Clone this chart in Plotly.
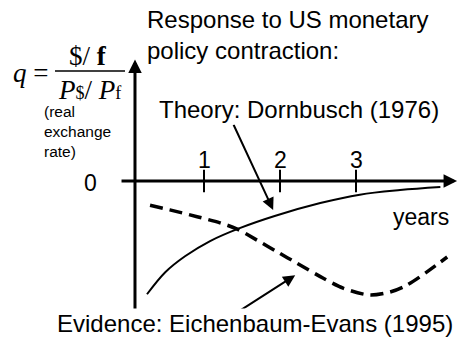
import plotly.graph_objects as go

# Dornbusch overshooting vs. Eichenbaum-Evans evidence (years, response of q)
theory_x = [0.25, 0.49, 0.75, 1.08, 1.47, 1.93, 2.53, 3.05, 3.58, 4.11]
theory_y = [-1.49, -1.20, -0.99, -0.79, -0.62, -0.46, -0.29, -0.18, -0.12, -0.08]

evidence_x = [0.29, 0.55, 0.91, 1.21, 1.43, 1.70, 1.96, 2.22, 2.57, 2.83, 3.18, 3.45, 3.67, 3.97, 4.20]
evidence_y = [-0.32, -0.38, -0.47, -0.55, -0.63, -0.78, -0.93, -1.08, -1.28, -1.41, -1.50, -1.46, -1.37, -1.17, -1.00]

tick_years = [1, 2, 3]
tick_labels = ["1", "2", "3"]

W, H = 458, 340
SANS = "Arial, Liberation Sans, sans-serif"
SERIF = "Times New Roman, Liberation Serif, serif"


def px(x):
    return x / W


def py(y):
    return 1 - y / H


fig = go.Figure()

fig.add_trace(go.Scatter(x=theory_x, y=theory_y, mode="lines",
                         line=dict(color="black", width=2, shape="spline", smoothing=1)))
fig.add_trace(go.Scatter(x=evidence_x, y=evidence_y, mode="lines",
                         line=dict(color="black", width=3.5, shape="spline", smoothing=0.8,
                                   dash="13px,7px")))

# tick marks on the time axis
fig.add_trace(go.Scatter(x=tick_years, y=[0] * len(tick_years), mode="markers",
                         marker=dict(symbol="line-ns-open", size=16, color="black",
                                     line=dict(color="black", width=2))))


def label(x, y, text, size=24, family=SANS, ref="x", **kw):
    d = dict(x=x, y=y, xref=ref, yref=ref.replace("x", "y"), text=text, showarrow=False,
             xanchor="center", yanchor="middle", font=dict(family=family, size=size, color="black"))
    d.update(kw)
    return d


def arrow(x, y, ax, ay, width=2, size=1.2):
    return dict(x=x, y=y, ax=ax, ay=ay, xref="x", yref="y", axref="x", ayref="y", text="",
                showarrow=True, arrowhead=2, arrowsize=size, arrowwidth=width, arrowcolor="black")


ann = []
# axes with arrowheads
ann.append(arrow(4.33, 0, -0.105, 0, width=3, size=0.9))
ann.append(arrow(0.092, 1.60, 0.092, -1.74, width=3, size=0.9))

for t, lab in zip(tick_years, tick_labels):
    ann.append(label(t, 0.28, lab, size=23))

ann.append(label(-0.5, -0.03, "0", size=23))
ann.append(label(3.86, -0.47, "years", size=23))

# pointer arrows
ann.append(arrow(1.91, -0.38, 1.38, 0.76))
ann.append(arrow(2.20, -1.24, 1.34, -1.79))

ann.append(label(px(145), py(35), "Response to US monetary<br>policy contraction:", ref="paper",
                 xanchor="left", align="left"))
ann.append(label(px(299), py(110), "Theory: Dornbusch (1976)", ref="paper", bgcolor="white"))
ann.append(label(px(255), py(323), "Evidence: Eichenbaum-Evans (1995)", ref="paper", bgcolor="white"))

# q = ($/f) / (P$/Pf)
ann.append(label(px(30), py(73), "<i>q</i> =", size=27, family=SERIF, ref="paper"))
ann.append(label(px(88), py(56), "$/ <b>f</b>", size=27, family=SERIF, ref="paper"))
ann.append(label(px(89), py(90),
                 "<i>P</i><span style='font-size:18px'>$</span>/ <i>P</i><span style='font-size:18px'>f</span>",
                 size=27, family=SERIF, ref="paper"))
ann.append(label(px(42), py(132), "(real<br>exchange<br>rate)", size=15.5, ref="paper",
                 xanchor="left", align="left"))

fig.add_shape(type="line", xref="paper", yref="paper", x0=px(55), x1=px(125), y0=py(71), y1=py(71),
              line=dict(color="black", width=1.5))

fig.update_layout(
    width=W, height=H,
    margin=dict(l=0, r=0, t=0, b=0),
    paper_bgcolor="white", plot_bgcolor="white",
    showlegend=False,
    annotations=ann,
    xaxis=dict(range=[-128 / 76, 330 / 76], visible=False, fixedrange=True),
    yaxis=dict(range=[-159 / 76, 181 / 76], visible=False, fixedrange=True),
)

fig.write_html("out.html", config={"displayModeBar": False},
               post_script="document.body.style.margin='0';")
